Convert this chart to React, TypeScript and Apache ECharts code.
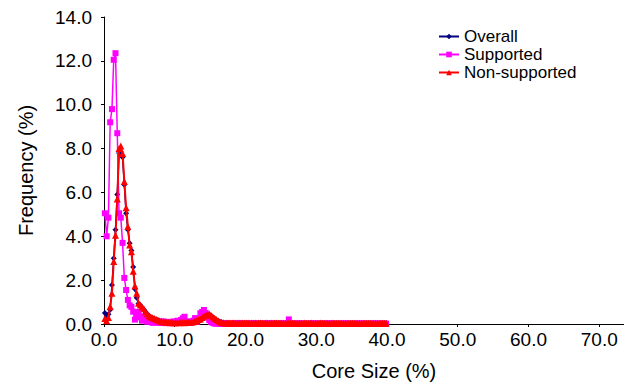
import React, { useEffect, useRef } from "react";
import * as echarts from "echarts";

// Bin centres: first bin centre and bin width (Core Size %)
const binStart = 0.125;
const binWidth = 0.25;

const xTicks = [0, 10, 20, 30, 40, 50, 60, 70];
const yTicks = [0, 2, 4, 6, 8, 10, 12, 14];

const seriesNames = ["Overall", "Supported", "Non-supported"];

const overall = [
  0.5, 0.36, 0.45, 0.65, 1.78, 3.0, 4.3, 5.9, 7.8, 7.86,
  7.6, 6.35, 5.05, 4.3, 3.68, 3.35, 2.6, 1.6, 1.2, 0.94,
  0.85, 0.75, 0.66, 0.55, 0.45, 0.37, 0.31, 0.27, 0.24, 0.2,
  0.17, 0.14, 0.12, 0.1, 0.09, 0.08, 0.07, 0.06, 0.07, 0.06,
  0.06, 0.07, 0.06, 0.07, 0.07, 0.06, 0.07, 0.08, 0.08, 0.09,
  0.1, 0.12, 0.15, 0.19, 0.22, 0.28, 0.34, 0.39, 0.42, 0.43,
  0.38, 0.31, 0.25, 0.19, 0.14, 0.1, 0.08, 0.06, 0.05, 0.05,
  0.04, 0.05, 0.04, 0.04, 0.05, 0.04, 0.04, 0.04, 0.05, 0.04,
  0.04, 0.04, 0.03, 0.04, 0.04, 0.04, 0.03, 0.04, 0.04, 0.04,
  0.03, 0.04, 0.04, 0.03, 0.04, 0.03, 0.04, 0.04, 0.03, 0.04,
  0.03, 0.03, 0.04, 0.03, 0.05, 0.03, 0.03, 0.04, 0.03, 0.03,
  0.03, 0.04, 0.03, 0.03, 0.03, 0.03, 0.04, 0.03, 0.03, 0.03,
  0.03, 0.03, 0.03, 0.03, 0.03, 0.03, 0.03, 0.03, 0.03, 0.03,
  0.03, 0.03, 0.03, 0.03, 0.03, 0.03, 0.03, 0.03, 0.03, 0.03,
  0.03, 0.03, 0.03, 0.03, 0.03, 0.03, 0.03, 0.03, 0.03, 0.03,
  0.03, 0.03, 0.03, 0.03, 0.03, 0.03, 0.03, 0.03, 0.03, 0.03,
];

const supported = [
  5.05, 4.0, 4.85, 9.2, 9.8, 12.05, 12.35, 8.7, 5.05, 4.85,
  3.7, 2.1, 1.55, 1.1, 0.85, 0.78, 0.56, 0.2, 0.45, 0.55,
  0.3, 0.15, 0.35, 0.2, 0.1, 0.25, 0.12, 0.05, 0.15, 0.08,
  0.05, 0.1, 0.05, 0.12, 0.04, 0.06, 0.1, 0.04, 0.08, 0.12,
  0.06, 0.15, 0.05, 0.18, 0.26, 0.33, 0.1, 0.08, 0.12, 0.06,
  0.15, 0.27, 0.1, 0.2, 0.49, 0.55, 0.64, 0.5, 0.3, 0.18,
  0.1, 0.05, 0.02, 0.02, 0.02, 0.01, 0.02, 0.02, 0.01, 0.02,
  0.02, 0.01, 0.02, 0.02, 0.02, 0.01, 0.02, 0.02, 0.01, 0.02,
  0.02, 0.02, 0.01, 0.02, 0.02, 0.01, 0.02, 0.02, 0.02, 0.01,
  0.02, 0.02, 0.01, 0.02, 0.02, 0.02, 0.01, 0.02, 0.02, 0.01,
  0.02, 0.02, 0.02, 0.01, 0.21, 0.02, 0.01, 0.02, 0.02, 0.01,
  0.02, 0.02, 0.01, 0.02, 0.02, 0.01, 0.02, 0.02, 0.01, 0.02,
  0.02, 0.01, 0.02, 0.02, 0.01, 0.02, 0.02, 0.01, 0.02, 0.02,
  0.01, 0.02, 0.02, 0.01, 0.02, 0.02, 0.01, 0.02, 0.02, 0.01,
  0.02, 0.02, 0.01, 0.02, 0.02, 0.01, 0.02, 0.02, 0.01, 0.02,
  0.02, 0.01, 0.02, 0.02, 0.01, 0.02, 0.02, 0.01, 0.02, 0.02,
];

const nonSupported = [
  0.25, 0.15, 0.3, 0.8, 1.4, 2.85, 4.05, 5.7, 8.0, 8.12,
  7.78, 6.5, 5.3, 4.45, 3.6, 3.3, 2.4, 1.75, 1.4, 0.95,
  0.87, 0.78, 0.7, 0.56, 0.47, 0.38, 0.32, 0.28, 0.25, 0.21,
  0.18, 0.15, 0.12, 0.1, 0.09, 0.08, 0.07, 0.06, 0.07, 0.06,
  0.06, 0.07, 0.06, 0.07, 0.07, 0.06, 0.07, 0.08, 0.08, 0.09,
  0.1, 0.13, 0.16, 0.2, 0.23, 0.3, 0.36, 0.41, 0.44, 0.46,
  0.4, 0.33, 0.26, 0.2, 0.15, 0.1, 0.08, 0.06, 0.05, 0.05,
  0.04, 0.05, 0.04, 0.04, 0.05, 0.04, 0.04, 0.04, 0.05, 0.04,
  0.04, 0.04, 0.03, 0.04, 0.04, 0.04, 0.03, 0.04, 0.04, 0.04,
  0.03, 0.04, 0.04, 0.03, 0.04, 0.03, 0.04, 0.04, 0.03, 0.04,
  0.03, 0.04, 0.03, 0.03, 0.04, 0.03, 0.04, 0.03, 0.03, 0.04,
  0.03, 0.03, 0.03, 0.04, 0.03, 0.03, 0.03, 0.04, 0.03, 0.03,
  0.03, 0.03, 0.04, 0.03, 0.03, 0.03, 0.03, 0.03, 0.03, 0.04,
  0.03, 0.03, 0.03, 0.03, 0.03, 0.03, 0.03, 0.03, 0.03, 0.03,
  0.03, 0.03, 0.03, 0.03, 0.03, 0.03, 0.03, 0.03, 0.03, 0.03,
  0.03, 0.03, 0.03, 0.03, 0.03, 0.03, 0.03, 0.03, 0.03, 0.03,
];

const colors = ["#000080", "#ff00ff", "#ff0000"];
const symbols = ["diamond", "rect", "triangle"];
const symbolSizes = [6, 6, 7];
const lineWidths = [1.5, 1.5, 2];
const FONT = "'Liberation Sans', Arial, sans-serif";

const toPairs = (vals: number[]) => vals.map((v, i) => [binStart + i * binWidth, v]);

export default function App() {
  const ref = useRef<HTMLDivElement>(null);
  useEffect(() => {
    if (!ref.current) return;
    const chart = echarts.init(ref.current, null, { renderer: "svg" });
    const datasets = [overall, supported, nonSupported];
    chart.setOption({
      animation: false,
      backgroundColor: "#ffffff",
      textStyle: { fontFamily: FONT, color: "#000" },
      grid: { left: 104, right: 0, top: 17, bottom: 66, containLabel: false },
      legend: {
        orient: "vertical",
        left: 433,
        top: 23,
        itemWidth: 20,
        itemHeight: 7,
        itemGap: 1,
        data: seriesNames,
        textStyle: { fontFamily: FONT, fontSize: 17, color: "#000", lineHeight: 17 },
      },
      xAxis: {
        type: "value",
        min: xTicks[0],
        max: 73.5,
        interval: 10,
        name: "Core Size (%)",
        nameLocation: "middle",
        nameGap: 37,
        nameTextStyle: { fontFamily: FONT, fontSize: 20, color: "#000", padding: [0, 0, 0, 20] },
        splitLine: { show: false },
        axisLine: { lineStyle: { color: "#000", width: 1 } },
        axisTick: { show: true, length: 3, lineStyle: { color: "#000" } },
        axisLabel: {
          fontFamily: FONT,
          fontSize: 19,
          color: "#000",
          margin: 6,
          showMaxLabel: false,
          formatter: (v: number) => (xTicks.includes(v) ? v.toFixed(1) : ""),
        },
      },
      yAxis: {
        type: "value",
        min: yTicks[0],
        max: yTicks[yTicks.length - 1],
        interval: 2,
        name: "Frequency (%)",
        nameLocation: "middle",
        nameGap: 68,
        nameTextStyle: { fontFamily: FONT, fontSize: 20, color: "#000" },
        splitLine: { show: false },
        axisLine: { show: true, lineStyle: { color: "#000", width: 1 } },
        axisTick: { show: true, length: 3, lineStyle: { color: "#000" } },
        axisLabel: {
          fontFamily: FONT,
          fontSize: 19,
          color: "#000",
          margin: 12,
          formatter: (v: number) => v.toFixed(1),
        },
      },
      series: seriesNames.map((name, k) => ({
        name,
        type: "line",
        data: toPairs(datasets[k]),
        symbol: symbols[k],
        symbolSize: symbolSizes[k],
        showAllSymbol: true,
        lineStyle: { color: colors[k], width: lineWidths[k] },
        itemStyle: { color: colors[k] },
        z: 2 + k,
      })),
    });
    return () => chart.dispose();
  }, []);
  return <div ref={ref} style={{ width: 624, height: 390, position: "absolute", left: 0, top: 0 }} />;
}
